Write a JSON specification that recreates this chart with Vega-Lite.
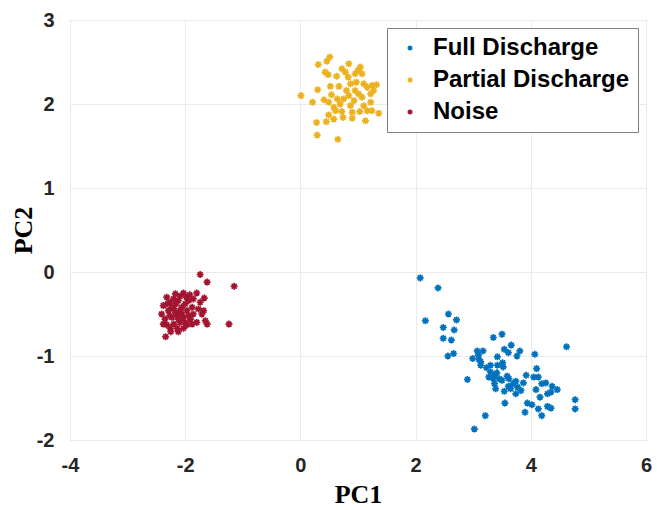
{
  "$schema": "https://vega.github.io/schema/vega-lite/v6.json",
  "width": 576,
  "height": 420,
  "autosize": {"type": "none"},
  "padding": {"left": 70, "top": 20, "right": 11, "bottom": 70},
  "background": "white",
  "data": {"values": [
    {"c":"Full Discharge","x":2.08,"y":-0.07},{"c":"Full Discharge","x":2.39,"y":-0.19},{"c":"Full Discharge","x":2.17,"y":-0.58},{"c":"Full Discharge","x":2.57,"y":-0.50},{"c":"Full Discharge","x":2.71,"y":-0.57},{"c":"Full Discharge","x":2.48,"y":-0.66},{"c":"Full Discharge","x":2.67,"y":-0.69},{"c":"Full Discharge","x":2.48,"y":-0.79},{"c":"Full Discharge","x":2.62,"y":-0.81},{"c":"Full Discharge","x":2.56,"y":-1.00},{"c":"Full Discharge","x":2.66,"y":-0.97},{"c":"Full Discharge","x":3.35,"y":-0.78},{"c":"Full Discharge","x":3.50,"y":-0.74},{"c":"Full Discharge","x":3.66,"y":-0.87},{"c":"Full Discharge","x":3.54,"y":-0.92},{"c":"Full Discharge","x":3.61,"y":-0.96},{"c":"Full Discharge","x":3.76,"y":-1.00},{"c":"Full Discharge","x":3.81,"y":-0.94},{"c":"Full Discharge","x":4.07,"y":-0.98},{"c":"Full Discharge","x":4.62,"y":-0.89},{"c":"Full Discharge","x":3.07,"y":-0.94},{"c":"Full Discharge","x":3.17,"y":-0.94},{"c":"Full Discharge","x":3.09,"y":-0.99},{"c":"Full Discharge","x":2.99,"y":-1.03},{"c":"Full Discharge","x":3.10,"y":-1.04},{"c":"Full Discharge","x":3.42,"y":-1.01},{"c":"Full Discharge","x":3.13,"y":-1.11},{"c":"Full Discharge","x":3.23,"y":-1.14},{"c":"Full Discharge","x":3.30,"y":-1.11},{"c":"Full Discharge","x":3.42,"y":-1.11},{"c":"Full Discharge","x":3.51,"y":-1.08},{"c":"Full Discharge","x":3.52,"y":-1.13},{"c":"Full Discharge","x":3.30,"y":-1.19},{"c":"Full Discharge","x":3.37,"y":-1.23},{"c":"Full Discharge","x":3.41,"y":-1.20},{"c":"Full Discharge","x":2.90,"y":-1.28},{"c":"Full Discharge","x":3.37,"y":-1.33},{"c":"Full Discharge","x":3.39,"y":-1.39},{"c":"Full Discharge","x":3.50,"y":-1.29},{"c":"Full Discharge","x":3.59,"y":-1.24},{"c":"Full Discharge","x":3.62,"y":-1.27},{"c":"Full Discharge","x":3.74,"y":-1.30},{"c":"Full Discharge","x":3.69,"y":-1.33},{"c":"Full Discharge","x":3.61,"y":-1.36},{"c":"Full Discharge","x":3.54,"y":-1.42},{"c":"Full Discharge","x":3.77,"y":-1.37},{"c":"Full Discharge","x":3.83,"y":-1.41},{"c":"Full Discharge","x":3.74,"y":-1.45},{"c":"Full Discharge","x":3.87,"y":-1.32},{"c":"Full Discharge","x":3.92,"y":-1.23},{"c":"Full Discharge","x":4.05,"y":-1.25},{"c":"Full Discharge","x":4.13,"y":-1.25},{"c":"Full Discharge","x":4.10,"y":-1.15},{"c":"Full Discharge","x":4.19,"y":-1.33},{"c":"Full Discharge","x":4.26,"y":-1.32},{"c":"Full Discharge","x":4.37,"y":-1.36},{"c":"Full Discharge","x":4.46,"y":-1.40},{"c":"Full Discharge","x":4.09,"y":-1.40},{"c":"Full Discharge","x":4.29,"y":-1.45},{"c":"Full Discharge","x":4.35,"y":-1.43},{"c":"Full Discharge","x":4.16,"y":-1.49},{"c":"Full Discharge","x":3.55,"y":-1.56},{"c":"Full Discharge","x":3.94,"y":-1.56},{"c":"Full Discharge","x":4.02,"y":-1.58},{"c":"Full Discharge","x":3.90,"y":-1.67},{"c":"Full Discharge","x":4.13,"y":-1.63},{"c":"Full Discharge","x":4.29,"y":-1.60},{"c":"Full Discharge","x":4.35,"y":-1.62},{"c":"Full Discharge","x":4.19,"y":-1.71},{"c":"Full Discharge","x":4.77,"y":-1.52},{"c":"Full Discharge","x":4.77,"y":-1.63},{"c":"Full Discharge","x":3.21,"y":-1.71},{"c":"Full Discharge","x":3.02,"y":-1.87},{"c":"Full Discharge","x":3.13,"y":-1.07},{"c":"Full Discharge","x":3.27,"y":-1.25},{"c":"Full Discharge","x":3.45,"y":-1.27},{"c":"Full Discharge","x":3.65,"y":-1.39},{"c":"Full Discharge","x":3.35,"y":-1.27},
    {"c":"Partial Discharge","x":0.01,"y":2.10},{"c":"Partial Discharge","x":0.21,"y":2.02},{"c":"Partial Discharge","x":0.31,"y":2.47},{"c":"Partial Discharge","x":0.46,"y":2.51},{"c":"Partial Discharge","x":0.51,"y":2.56},{"c":"Partial Discharge","x":0.43,"y":2.38},{"c":"Partial Discharge","x":0.48,"y":2.35},{"c":"Partial Discharge","x":0.63,"y":2.33},{"c":"Partial Discharge","x":0.30,"y":2.17},{"c":"Partial Discharge","x":0.52,"y":2.21},{"c":"Partial Discharge","x":0.67,"y":2.21},{"c":"Partial Discharge","x":0.41,"y":2.05},{"c":"Partial Discharge","x":0.54,"y":2.11},{"c":"Partial Discharge","x":0.49,"y":2.02},{"c":"Partial Discharge","x":0.64,"y":2.06},{"c":"Partial Discharge","x":0.72,"y":2.42},{"c":"Partial Discharge","x":0.78,"y":2.38},{"c":"Partial Discharge","x":0.83,"y":2.32},{"c":"Partial Discharge","x":0.87,"y":2.24},{"c":"Partial Discharge","x":0.80,"y":2.16},{"c":"Partial Discharge","x":0.84,"y":2.10},{"c":"Partial Discharge","x":0.95,"y":2.36},{"c":"Partial Discharge","x":1.00,"y":2.40},{"c":"Partial Discharge","x":1.07,"y":2.36},{"c":"Partial Discharge","x":1.10,"y":2.24},{"c":"Partial Discharge","x":1.16,"y":2.20},{"c":"Partial Discharge","x":1.24,"y":2.22},{"c":"Partial Discharge","x":1.32,"y":2.23},{"c":"Partial Discharge","x":0.95,"y":2.16},{"c":"Partial Discharge","x":1.01,"y":2.12},{"c":"Partial Discharge","x":1.07,"y":2.08},{"c":"Partial Discharge","x":1.22,"y":2.12},{"c":"Partial Discharge","x":1.22,"y":2.02},{"c":"Partial Discharge","x":0.58,"y":1.96},{"c":"Partial Discharge","x":0.69,"y":2.00},{"c":"Partial Discharge","x":0.61,"y":1.92},{"c":"Partial Discharge","x":0.72,"y":1.91},{"c":"Partial Discharge","x":0.87,"y":1.98},{"c":"Partial Discharge","x":0.90,"y":1.90},{"c":"Partial Discharge","x":1.03,"y":1.91},{"c":"Partial Discharge","x":1.16,"y":1.92},{"c":"Partial Discharge","x":1.24,"y":1.92},{"c":"Partial Discharge","x":1.36,"y":1.89},{"c":"Partial Discharge","x":0.49,"y":1.87},{"c":"Partial Discharge","x":0.58,"y":1.82},{"c":"Partial Discharge","x":0.45,"y":1.79},{"c":"Partial Discharge","x":0.28,"y":1.78},{"c":"Partial Discharge","x":0.74,"y":1.84},{"c":"Partial Discharge","x":0.90,"y":1.83},{"c":"Partial Discharge","x":1.13,"y":1.80},{"c":"Partial Discharge","x":0.29,"y":1.63},{"c":"Partial Discharge","x":0.65,"y":1.58},{"c":"Partial Discharge","x":0.75,"y":2.06},{"c":"Partial Discharge","x":0.93,"y":2.04},{"c":"Partial Discharge","x":1.10,"y":1.98},{"c":"Partial Discharge","x":0.97,"y":2.26},{"c":"Partial Discharge","x":0.84,"y":2.48},{"c":"Partial Discharge","x":1.04,"y":2.44},{"c":"Partial Discharge","x":1.27,"y":2.16},
    {"c":"Noise","x":-1.74,"y":-0.03},{"c":"Noise","x":-1.62,"y":-0.12},{"c":"Noise","x":-1.15,"y":-0.17},{"c":"Noise","x":-1.24,"y":-0.62},{"c":"Noise","x":-2.34,"y":-0.77},{"c":"Noise","x":-1.80,"y":-0.25},{"c":"Noise","x":-1.67,"y":-0.31},{"c":"Noise","x":-1.74,"y":-0.36},{"c":"Noise","x":-1.68,"y":-0.46},{"c":"Noise","x":-1.65,"y":-0.58},{"c":"Noise","x":-1.62,"y":-0.62},
    {"c":"Noise","x":-2.32,"y":-0.30},{"c":"Noise","x":-2.17,"y":-0.26},{"c":"Noise","x":-2.03,"y":-0.25},{"c":"Noise","x":-1.92,"y":-0.27},{"c":"Noise","x":-1.86,"y":-0.32},{"c":"Noise","x":-2.38,"y":-0.40},{"c":"Noise","x":-2.26,"y":-0.36},{"c":"Noise","x":-2.12,"y":-0.34},{"c":"Noise","x":-2.00,"y":-0.38},{"c":"Noise","x":-1.88,"y":-0.42},{"c":"Noise","x":-2.41,"y":-0.50},{"c":"Noise","x":-2.29,"y":-0.46},{"c":"Noise","x":-2.20,"y":-0.44},{"c":"Noise","x":-2.09,"y":-0.46},{"c":"Noise","x":-1.97,"y":-0.46},{"c":"Noise","x":-1.86,"y":-0.50},{"c":"Noise","x":-2.35,"y":-0.56},{"c":"Noise","x":-2.23,"y":-0.54},{"c":"Noise","x":-2.14,"y":-0.52},{"c":"Noise","x":-2.03,"y":-0.54},{"c":"Noise","x":-1.91,"y":-0.56},{"c":"Noise","x":-2.32,"y":-0.63},{"c":"Noise","x":-2.20,"y":-0.62},{"c":"Noise","x":-2.09,"y":-0.60},{"c":"Noise","x":-1.97,"y":-0.63},{"c":"Noise","x":-2.14,"y":-0.67},{"c":"Noise","x":-2.26,"y":-0.67},{"c":"Noise","x":-2.03,"y":-0.67},{"c":"Noise","x":-2.31,"y":-0.38},{"c":"Noise","x":-2.16,"y":-0.38},{"c":"Noise","x":-2.06,"y":-0.42},{"c":"Noise","x":-1.94,"y":-0.34},{"c":"Noise","x":-2.23,"y":-0.42},{"c":"Noise","x":-2.12,"y":-0.56},{"c":"Noise","x":-2.00,"y":-0.60},{"c":"Noise","x":-1.88,"y":-0.62},{"c":"Noise","x":-1.80,"y":-0.60},{"c":"Noise","x":-1.71,"y":-0.50},{"c":"Noise","x":-1.77,"y":-0.44},{"c":"Noise","x":-2.38,"y":-0.62},{"c":"Noise","x":-2.25,"y":-0.71},{"c":"Noise","x":-2.12,"y":-0.71},{"c":"Noise","x":-2.17,"y":-0.48},{"c":"Noise","x":-2.06,"y":-0.50},{"c":"Noise","x":-1.94,"y":-0.52},{"c":"Noise","x":-2.27,"y":-0.52},{"c":"Noise","x":-2.20,"y":-0.32},{"c":"Noise","x":-2.09,"y":-0.29},{"c":"Noise","x":-1.98,"y":-0.30}
  ]},
  "mark": {
    "type": "point",
    "shape": "M-1,0L1,0M0,-1L0,1M-0.7,-0.7L0.7,0.7M-0.7,0.7L0.7,-0.7",
    "filled": false,
    "size": 49,
    "strokeWidth": 1.7,
    "opacity": 1
  },
  "encoding": {
    "x": {
      "field": "x", "type": "quantitative",
      "scale": {"domain": [-4, 6], "nice": false, "zero": false},
      "axis": {"values": [-4, -2, 0, 2, 4, 6], "title": "PC1", "labelFlush": false, "labelOverlap": false,
        "labelExpr": "datum.value < 0 ? '-' + abs(datum.value) : '' + datum.value"}
    },
    "y": {
      "field": "y", "type": "quantitative",
      "scale": {"domain": [-2, 3], "nice": false, "zero": false},
      "axis": {"values": [-2, -1, 0, 1, 2, 3], "title": "PC2", "labelFlush": false, "labelOverlap": false,
        "labelExpr": "datum.value < 0 ? '-' + abs(datum.value) : '' + datum.value"}
    },
    "color": {
      "field": "c", "type": "nominal",
      "scale": {"domain": ["Full Discharge", "Partial Discharge", "Noise"], "range": ["#0072BD", "#EDB120", "#A2142F"]},
      "legend": {
        "title": null,
        "orient": "none",
        "legendX": 317,
        "legendY": 8,
        "padding": 8,
        "symbolOffset": 3,
        "symbolSize": 25,
        "symbolStrokeWidth": 1.5,
        "labelOffset": 11,
        "labelFontSize": 24,
        "labelLimit": 400,
        "labelFont": "Liberation Sans",
        "labelFontWeight": "bold",
        "labelColor": "#000000",
        "rowPadding": 8,
        "strokeColor": "#808080",
        "fillColor": "white"
      }
    }
  },
  "config": {
    "view": {"stroke": "#8c8c8c", "strokeWidth": 1},
    "axis": {
      "domain": false,
      "ticks": false,
      "grid": true,
      "gridColor": "#ebebeb",
      "gridWidth": 1,
      "labelFont": "Liberation Sans",
      "labelFontSize": 20,
      "labelFontWeight": "bold",
      "labelColor": "#262626",
      "titleFont": "Liberation Serif",
      "titleFontSize": 26,
      "titleFontWeight": "bold",
      "titleColor": "#000000"
    },
    "axisX": {"labelPadding": 15, "titlePadding": 6},
    "axisY": {"labelPadding": 16, "titleX": -34, "titleBaseline": "bottom"}
  }
}
